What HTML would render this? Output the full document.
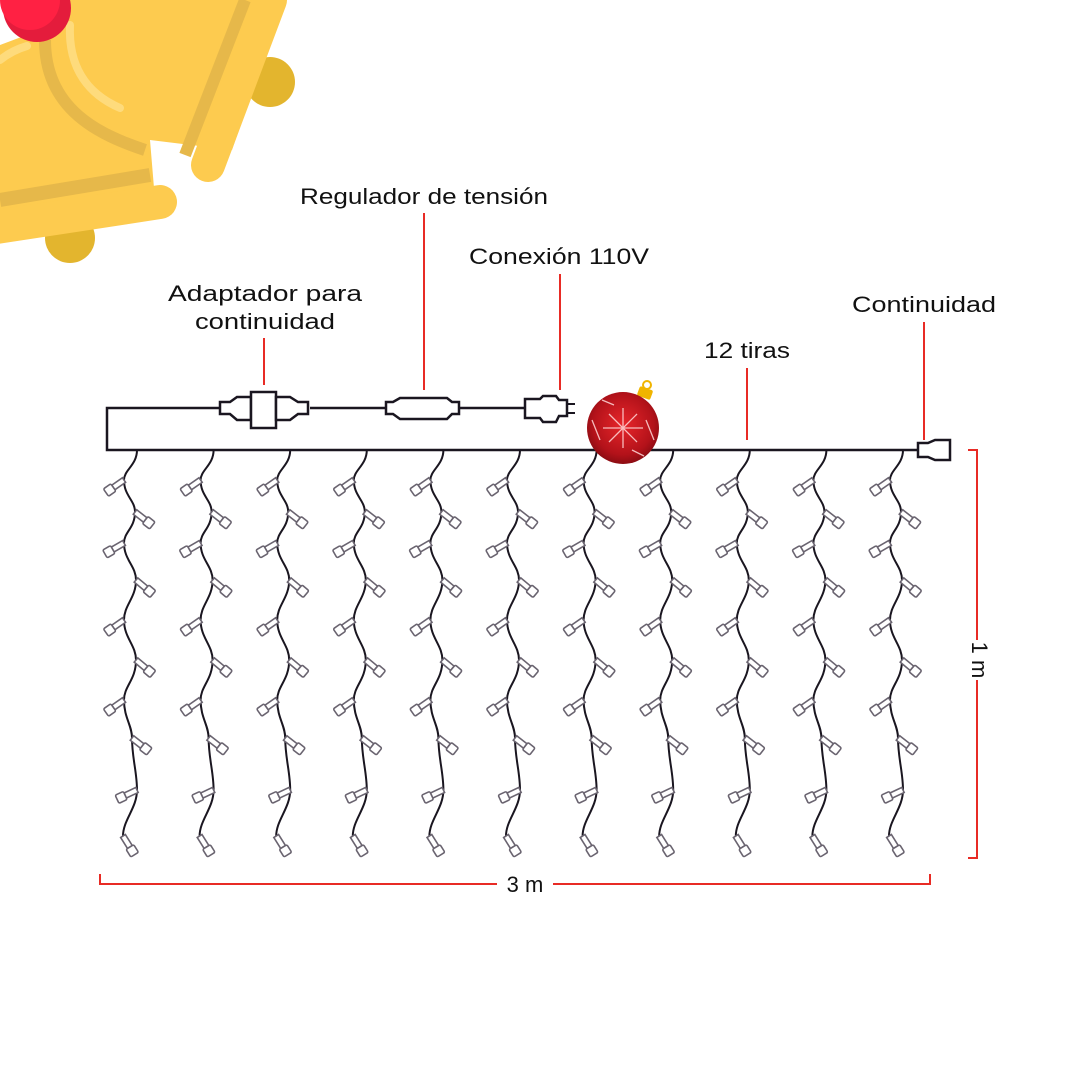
<!DOCTYPE html>
<html><head><meta charset="utf-8"><style>
html,body{margin:0;padding:0;background:#fff;}
svg{display:block;}
text{font-family:"Liberation Sans",sans-serif;fill:#111;}
</style></head><body>
<svg width="1080" height="1080" viewBox="0 0 1080 1080" xmlns="http://www.w3.org/2000/svg">
<defs>
 <g id="bulb">
  <rect x="0" y="-2.8" width="13" height="5.6" fill="#fff" stroke="#6a6470" stroke-width="1.6"/>
  <rect x="13" y="-4.5" width="9" height="9" rx="1.5" fill="#fff" stroke="#6a6470" stroke-width="1.6"/>
 </g>
 <g id="strand">
  <path d="M137,450 C137,465 124,470 124,480 C124,496 135,500 135,512 C135,528 124,532 124,543 C124,560 136,566 136,580 C136,598 124,605 124,620 C124,638 136,645 136,660 C136,680 124,686 124,700 C124,718 132,725 132,738 C132,758 137,772 137,790 C137,808 123,820 123,836" fill="none" stroke="#1a1620" stroke-width="2"/>
  <use href="#bulb" transform="translate(124,480) rotate(145)"/>
  <use href="#bulb" transform="translate(135,512) rotate(38)"/>
  <use href="#bulb" transform="translate(124,543) rotate(150)"/>
  <use href="#bulb" transform="translate(136,580) rotate(40)"/>
  <use href="#bulb" transform="translate(124,620) rotate(145)"/>
  <use href="#bulb" transform="translate(136,660) rotate(40)"/>
  <use href="#bulb" transform="translate(124,700) rotate(145)"/>
  <use href="#bulb" transform="translate(132,738) rotate(38)"/>
  <use href="#bulb" transform="translate(137,790) rotate(155)"/>
  <use href="#bulb" transform="translate(123,836) rotate(58)"/>
 </g>
 <radialGradient id="orn" cx="0.5" cy="0.45" r="0.6">
  <stop offset="0" stop-color="#e8262a"/><stop offset="0.7" stop-color="#b3121a"/><stop offset="1" stop-color="#7d0a10"/>
 </radialGradient>
</defs>

<!-- bells -->
<circle cx="270" cy="82" r="25" fill="#e3b52e"/>
<circle cx="70" cy="238" r="25" fill="#e3b52e"/>
<polygon points="0,45 40,30 60,0 285,0 232,150 150,140 155,200 0,225" fill="#fdcb4f"/>
<path d="M45,40 C45,110 100,135 145,150" fill="none" stroke="#e6b84a" stroke-width="12"/>
<path d="M70,25 C68,70 90,95 120,108" fill="none" stroke="#fedb7c" stroke-width="8" stroke-linecap="round"/>
<path d="M0,60 C10,52 20,48 27,46" fill="none" stroke="#fedb7c" stroke-width="8" stroke-linecap="round"/>
<line x1="245" y1="0" x2="185" y2="155" stroke="#e6b84a" stroke-width="12"/>
<line x1="270" y1="0" x2="208" y2="165" stroke="#fdcb4f" stroke-width="34" stroke-linecap="round"/>
<line x1="0" y1="200" x2="150" y2="175" stroke="#e6b84a" stroke-width="14"/>
<line x1="-10" y1="228" x2="160" y2="202" stroke="#fdcb4f" stroke-width="34" stroke-linecap="round"/>
<circle cx="37" cy="8" r="34" fill="#e41c3c"/>
<circle cx="30" cy="0" r="30" fill="#ff2143"/>

<!-- labels -->
<text x="300" y="204" font-size="22" textLength="248" lengthAdjust="spacingAndGlyphs">Regulador de tensión</text>
<text x="469" y="264" font-size="22" textLength="180" lengthAdjust="spacingAndGlyphs">Conexión 110V</text>
<text x="168" y="301" font-size="22" textLength="194" lengthAdjust="spacingAndGlyphs">Adaptador para</text>
<text x="195" y="329" font-size="22" textLength="140" lengthAdjust="spacingAndGlyphs">continuidad</text>
<text x="704" y="358" font-size="22" textLength="86" lengthAdjust="spacingAndGlyphs">12 tiras</text>
<text x="852" y="312" font-size="22" textLength="144" lengthAdjust="spacingAndGlyphs">Continuidad</text>

<!-- red leaders -->
<g stroke="#e82b25" stroke-width="2">
 <line x1="424" y1="213" x2="424" y2="390"/>
 <line x1="560" y1="274" x2="560" y2="390"/>
 <line x1="264" y1="338" x2="264" y2="385"/>
 <line x1="747" y1="368" x2="747" y2="440"/>
 <line x1="924" y1="322" x2="924" y2="440"/>
 <polyline points="100,874 100,884 497,884" fill="none"/>
 <polyline points="553,884 930,884 930,874" fill="none"/>
 <polyline points="968,450 977,450 977,640" fill="none"/>
 <polyline points="977,680 977,858 968,858" fill="none"/>
</g>
<text x="525" y="892" font-size="22" text-anchor="middle">3 m</text>
<text transform="translate(972,660) rotate(90)" font-size="22" text-anchor="middle">1 m</text>

<!-- top wire -->
<g fill="none" stroke="#1a1620" stroke-width="2.5">
 <polyline points="220,408 107,408 107,450 915,450"/>
 <line x1="310" y1="408" x2="385" y2="408"/>
 <line x1="460" y1="408" x2="525" y2="408"/>
 <path d="M220,402 L230,402 L237,397 L251,397 L251,420 L237,420 L230,414 L220,414 Z" fill="#fff"/>
 <rect x="251" y="392" width="25" height="36" fill="#fff"/>
 <path d="M276,397 L290,397 L298,402 L308,402 L308,414 L298,414 L290,420 L276,420 Z" fill="#fff"/>
 <path d="M386,402 L393,402 L400,398 L447,398 L452,402 L459,402 L459,414 L452,414 L447,419 L400,419 L393,414 L386,414 Z" fill="#fff"/>
 <path d="M525,399 L540,399 L543,396 L556,396 L559,400 L567,400 L567,416 L559,416 L556,422 L543,422 L540,418 L525,418 Z" fill="#fff"/>
 <line x1="567" y1="404" x2="575" y2="404" stroke-width="2"/>
 <line x1="567" y1="413" x2="575" y2="413" stroke-width="2"/>
 <path d="M915,450 L918,450 L918,443 L928,443 L935,440 L950,440 L950,460 L935,460 L928,457 L918,457 L918,450" fill="#fff"/>
</g>

<!-- strands -->
<use href="#strand" transform="translate(0,0)"/>
<use href="#strand" transform="translate(76.6,0)"/>
<use href="#strand" transform="translate(153.2,0)"/>
<use href="#strand" transform="translate(229.8,0)"/>
<use href="#strand" transform="translate(306.4,0)"/>
<use href="#strand" transform="translate(383,0)"/>
<use href="#strand" transform="translate(459.6,0)"/>
<use href="#strand" transform="translate(536.2,0)"/>
<use href="#strand" transform="translate(612.8,0)"/>
<use href="#strand" transform="translate(689.4,0)"/>
<use href="#strand" transform="translate(766,0)"/>

<!-- ornament -->
<rect x="638" y="388" width="14" height="10" rx="2" fill="#f0b400" transform="rotate(20 645 393)"/>
<circle cx="647" cy="385" r="4" fill="none" stroke="#f0b400" stroke-width="2"/>
<circle cx="623" cy="428" r="36" fill="url(#orn)"/>
<g stroke="#ffd8d8" stroke-width="1.3" opacity="0.85">
 <line x1="603" y1="428" x2="643" y2="428"/><line x1="623" y1="408" x2="623" y2="448"/>
 <line x1="609" y1="414" x2="637" y2="442"/><line x1="637" y1="414" x2="609" y2="442"/>
 <line x1="592" y1="420" x2="600" y2="440"/><line x1="646" y1="420" x2="654" y2="440"/>
 <line x1="602" y1="400" x2="614" y2="405"/><line x1="632" y1="450" x2="644" y2="456"/>
</g>
</svg>
</body></html>
